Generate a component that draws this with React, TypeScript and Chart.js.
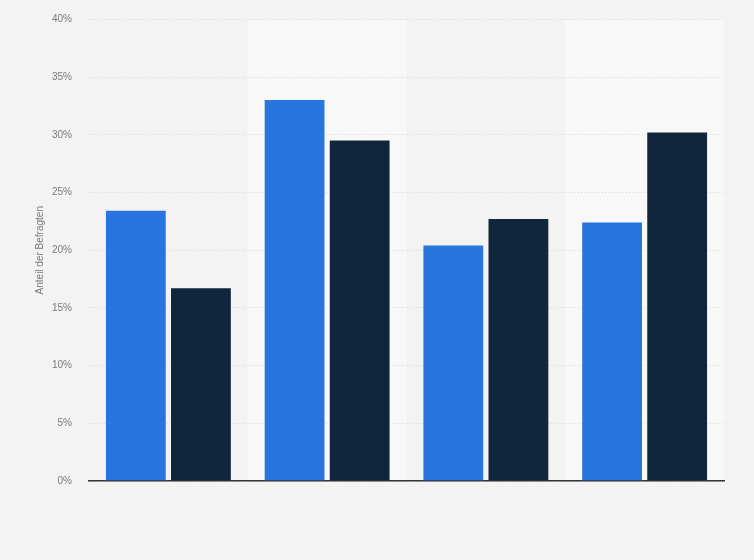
import { useEffect, useRef } from "react";
import { Chart, registerables } from "chart.js";

Chart.register(...registerables);

// x labels are not shown in the picture
const categories = ["Gruppe 1", "Gruppe 2", "Gruppe 3", "Gruppe 4"];
const seriesA = [23.5, 33.1, 20.5, 22.5];
const seriesB = [16.8, 29.6, 22.8, 30.3];
const yTicks = [0, 5, 10, 15, 20, 25, 30, 35, 40];

const bandPlugin = {
  id: "bands",
  beforeDraw(chart: any) {
    const { ctx, chartArea, scales } = chart;
    ctx.save();
    ctx.fillStyle = "#f3f3f3";
    ctx.fillRect(0, 0, chart.width, chart.height);
    const x = scales.x;
    const w = (chartArea.right - chartArea.left) / categories.length;
    ctx.fillStyle = "#f8f8f8";
    categories.forEach((_, i) => {
      if (i % 2 === 1) {
        const cx = x.getPixelForValue(i);
        ctx.fillRect(cx - w / 2, chartArea.top, w, chartArea.bottom - chartArea.top);
      }
    });
    ctx.restore();
  },
};

export default function App() {
  const canvasRef = useRef<HTMLCanvasElement>(null);
  const chartRef = useRef<Chart | null>(null);

  useEffect(() => {
    if (!canvasRef.current) return;
    if (chartRef.current) chartRef.current.destroy();

    const font = { family: "'Liberation Sans', Arial, sans-serif", size: 10 };

    chartRef.current = new Chart(canvasRef.current, {
      type: "bar",
      data: {
        labels: categories,
        datasets: [
          {
            label: "Serie 1",
            data: seriesA,
            backgroundColor: "#2876dd",
            borderColor: "rgba(255,255,255,0.35)",
            borderWidth: 1,
            categoryPercentage: 0.82,
            barPercentage: 0.95,
          },
          {
            label: "Serie 2",
            data: seriesB,
            backgroundColor: "#10263d",
            borderColor: "rgba(255,255,255,0.35)",
            borderWidth: 1,
            categoryPercentage: 0.82,
            barPercentage: 0.95,
          },
        ],
      },
      options: {
        animation: false,
        responsive: false,
        devicePixelRatio: 1,
        layout: { padding: { left: 0, right: 30, top: 19.5, bottom: 79 } },
        plugins: {
          legend: { display: false },
          tooltip: { enabled: false },
        },
        scales: {
          x: {
            ticks: { display: false },
            grid: { display: false },
            border: { display: true, color: "#333333", width: 1.5 },
            afterFit: (scale: any) => {
              scale.height = 0;
              scale.paddingLeft = 0;
              scale.paddingRight = 0;
            },
          },
          y: {
            min: 0,
            max: 40,
            afterBuildTicks: (scale: any) => {
              scale.ticks = yTicks.map((v) => ({ value: v }));
            },
            afterFit: (scale: any) => {
              scale.width = 89;
              scale.paddingTop = 0;
              scale.paddingBottom = 0;
            },
            ticks: {
              color: "#7a7a7a",
              font,
              padding: 17,
              callback: (v: any) => `${v}%`,
            },
            grid: {
              color: "#d8d8d8",
              drawTicks: false,
            },
            border: { display: false, dash: [1, 2] },
            title: {
              display: true,
              text: "Anteil der Befragten",
              color: "#7a7a7a",
              font,
              padding: { top: 34, bottom: 0 },
            },
          },
        },
      },
      plugins: [bandPlugin],
    });

    return () => {
      if (chartRef.current) {
        chartRef.current.destroy();
        chartRef.current = null;
      }
    };
  }, []);

  return (
    <div
      style={{
        position: "fixed",
        left: 0,
        top: 0,
        width: 754,
        height: 560,
        background: "#f3f3f3",
      }}
    >
      <canvas ref={canvasRef} width={754} height={560} />
    </div>
  );
}
